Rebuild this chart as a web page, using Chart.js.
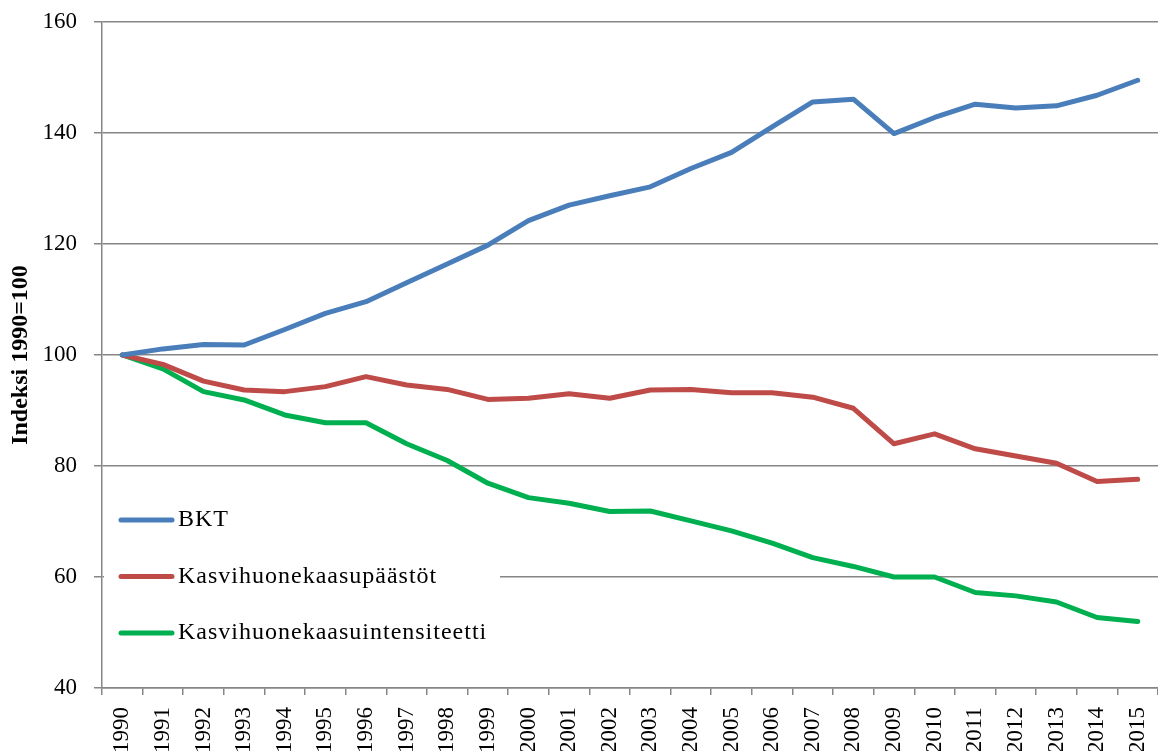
<!DOCTYPE html>
<html>
<head>
<meta charset="utf-8">
<script src="https://cdn.jsdelivr.net/npm/chart.js@4"></script>
<style>
  body { margin: 0; background: #fff; }
</style>
</head>
<body>
<canvas id="indeksiChart" width="1158" height="751"></canvas>
<script>
const years = ["1990","1991","1992","1993","1994","1995","1996","1997","1998","1999","2000","2001","2002",
  "2003","2004","2005","2006","2007","2008","2009","2010","2011","2012","2013","2014","2015"];

const bkt = [100, 101.1, 101.9, 101.8, 104.6, 107.5, 109.6, 113.0, 116.4, 119.8, 124.2, 127.0, 128.7,
  130.3, 133.6, 136.5, 141.1, 145.6, 146.1, 139.9, 142.8, 145.2, 144.5, 144.9, 146.8, 149.5];

const paastot = [100, 98.3, 95.3, 93.7, 93.4, 94.3, 96.1, 94.6, 93.8, 92.0, 92.2, 93.0, 92.2,
  93.7, 93.8, 93.2, 93.2, 92.4, 90.4, 84.0, 85.8, 83.1, 81.8, 80.5, 77.2, 77.6];

const intensiteetti = [100, 97.5, 93.4, 91.9, 89.2, 87.8, 87.8, 84.0, 81.0, 76.9, 74.3, 73.3, 71.8,
  71.9, 70.1, 68.3, 66.1, 63.5, 61.9, 60.0, 60.0, 57.2, 56.6, 55.5, 52.7, 52.0];

const yTicks = [40, 60, 80, 100, 120, 140, 160];

const gridColor = "#868686";
const serif = "'Liberation Serif', 'Times New Roman', serif";

// legend drawn inside the plot, lower left, on a white box
const insideLegend = {
  id: "insideLegend",
  afterDraw(chart) {
    const ctx = chart.ctx;
    const area = chart.chartArea;
    const x0 = area.left + 2;
    ctx.save();
    ctx.fillStyle = "#fff";
    ctx.fillRect(x0, 496, 500 - x0, 172);
    ctx.font = "24px " + serif;
    ctx.letterSpacing = "1px";
    ctx.textBaseline = "middle";
    chart.data.datasets.forEach((ds, i) => {
      const y = 520 + i * 56.5;
      ctx.strokeStyle = ds.borderColor;
      ctx.lineWidth = 5;
      ctx.lineCap = "round";
      ctx.beginPath();
      ctx.moveTo(121, y);
      ctx.lineTo(172, y);
      ctx.stroke();
      ctx.fillStyle = "#000";
      ctx.fillText(ds.label, 178, y);
    });
    ctx.restore();
  }
};

const ctx = document.getElementById("indeksiChart").getContext("2d");
new Chart(ctx, {
  type: "line",
  data: {
    labels: years,
    datasets: [
      { label: "BKT", data: bkt, borderColor: "#4A7EBB" },
      { label: "Kasvihuonekaasupäästöt", data: paastot, borderColor: "#BE4B48" },
      { label: "Kasvihuonekaasuintensiteetti", data: intensiteetti, borderColor: "#00B050" }
    ]
  },
  options: {
    responsive: false,
    animation: false,
    layout: { padding: { top: 22, right: 0, bottom: 0, left: 0 } },
    elements: {
      line: { borderWidth: 5, tension: 0, borderCapStyle: "round", borderJoinStyle: "round" },
      point: { radius: 0 }
    },
    plugins: {
      legend: { display: false },
      tooltip: { enabled: false }
    },
    scales: {
      x: {
        offset: true,
        grid: { offset: true, drawOnChartArea: false, drawTicks: true, tickLength: 7, color: gridColor, lineWidth: 1.5 },
        border: { color: gridColor, width: 1.5 },
        ticks: {
          color: "#000",
          font: { family: serif, size: 23 },
          minRotation: 90,
          maxRotation: 90,
          autoSkip: false,
          padding: 12
        },
        afterFit(scale) {
          scale.height = 63;
          scale.paddingLeft = 0;
          scale.paddingRight = 0;
        }
      },
      y: {
        min: 40,
        max: 160,
        afterBuildTicks(scale) { scale.ticks = yTicks.map(v => ({ value: v })); },
        grid: { color: gridColor, lineWidth: 1.5, tickLength: 8 },
        border: { color: gridColor, width: 1.5 },
        ticks: {
          color: "#000",
          font: { family: serif, size: 23 },
          padding: 17
        },
        title: {
          display: true,
          text: "Indeksi 1990=100",
          color: "#000",
          font: { family: serif, size: 24, weight: "bold" },
          padding: { top: 6, bottom: 0 }
        },
        afterFit(scale) {
          scale.width = 102;
          scale.paddingTop = 0;
          scale.paddingBottom = 0;
        }
      }
    }
  },
  plugins: [insideLegend]
});
</script>
</body>
</html>
